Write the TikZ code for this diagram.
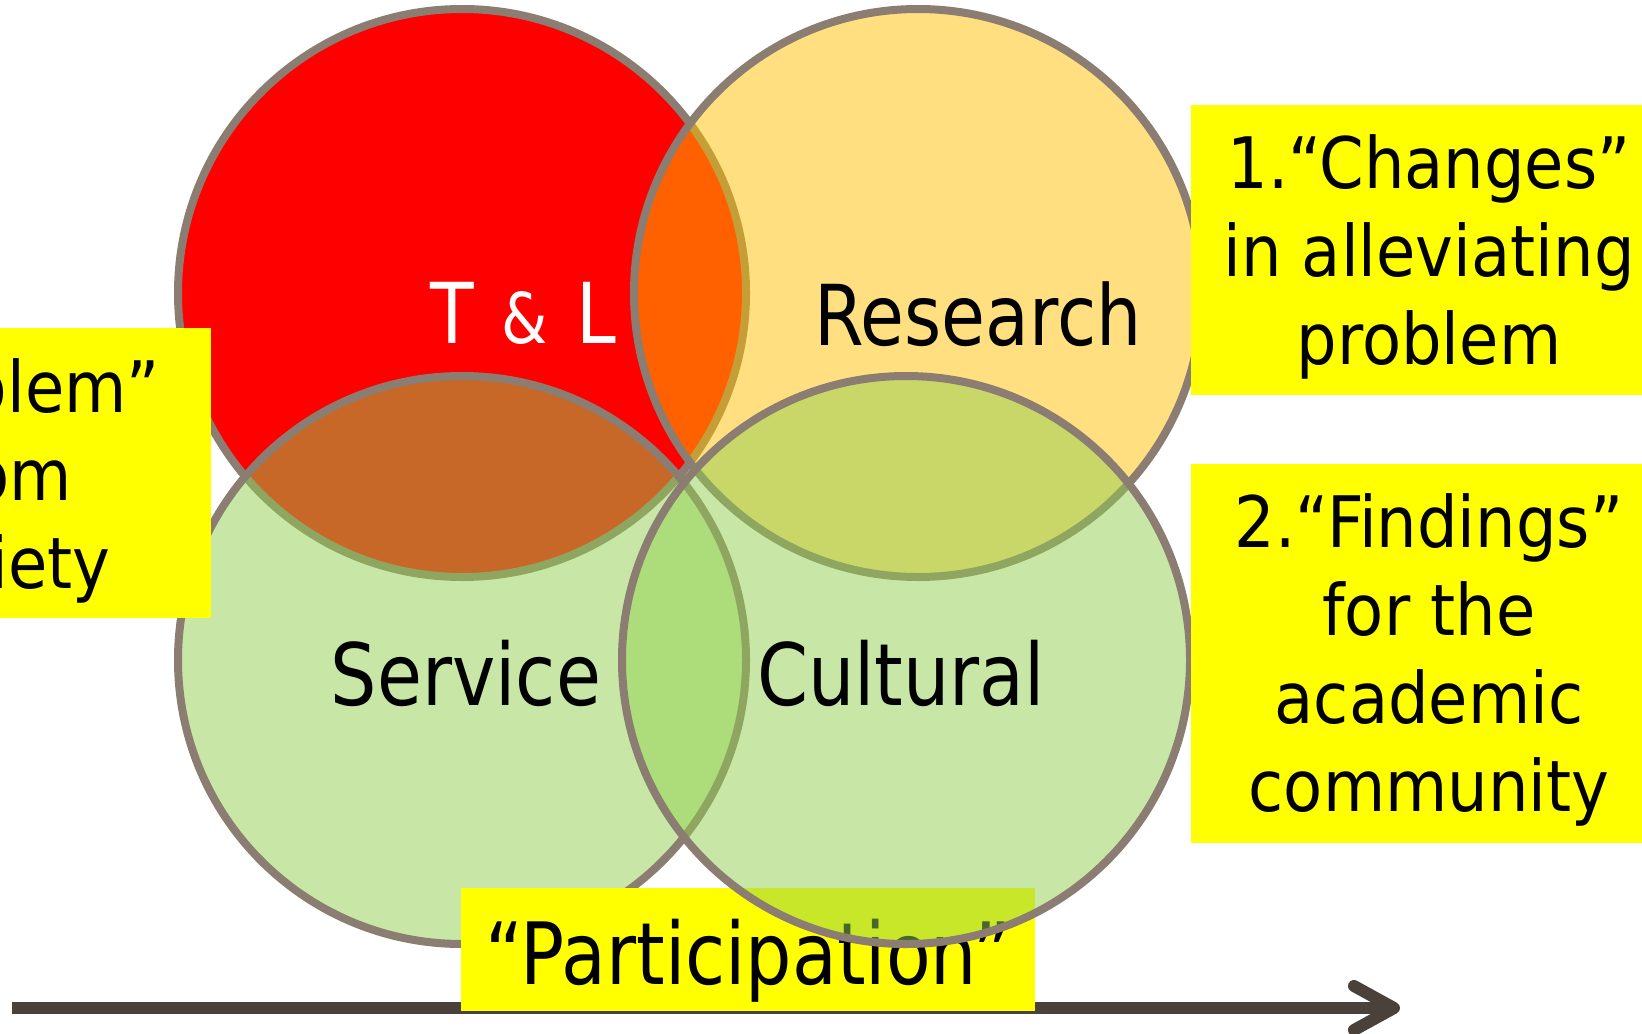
\documentclass[tikz,border=0pt]{standalone}
\usepackage{fontspec}
\setmainfont{DejaVu Sans}
\newfontfamily\boxfont{DejaVu Sans}[FakeStretch=0.9]
\newfontfamily\labelfont{DejaVu Sans}[FakeStretch=0.85]
\usetikzlibrary{arrows.meta}

\definecolor{ringgrey}{HTML}{8B7D72}
\definecolor{gold}{HTML}{FFC000}
\definecolor{leafgreen}{HTML}{92D050}
\definecolor{arrowbrown}{HTML}{4A413A}
\definecolor{hlyellow}{HTML}{FFFF00}

\begin{document}
\begin{tikzpicture}[x=0.5pt,y=-0.5pt]
\tikzstyle{venn}=[circle, draw=ringgrey, line width=4pt, minimum size=284pt, inner sep=0pt]
\tikzstyle{hlbox}=[fill=hlyellow, inner sep=0pt]
\tikzstyle{boxtext}=[anchor=north, align=center, inner sep=0pt, font=\boxfont\fontsize{35.5}{44}\selectfont]
\tikzstyle{vennlabel}=[anchor=base, inner sep=0pt, font=\labelfont\fontsize{43}{50}\selectfont]
\tikzstyle{timeline}=[line width=6pt, draw=arrowbrown, -{Straight Barb[length=20pt, width=22pt, round]}]

\useasboundingbox (0,0) rectangle (1642,1033);

\coordinate (tstart) at (12,1008);
\coordinate (tend) at (1400,1008);
\draw[timeline] (tstart) -- (tend);

\draw (462,293) node[venn, fill=red] (tl) {};
\draw (918,293) node[venn, fill=gold, fill opacity=0.5] (research) {};
\draw (462,660) node[venn, fill=leafgreen, fill opacity=0.5] (service) {};
\draw (748,949.5) node[hlbox, minimum width=287pt, minimum height=61.5pt] (partbox) {};
\draw (748,984) node[vennlabel] (parttext) {“Participation”};
\draw (906,660) node[venn, fill=leafgreen, fill opacity=0.5] (cultural) {};

\draw (523,343) node[vennlabel, text=white, font=\labelfont\fontsize{42}{50}\selectfont] (tltext) {T\hspace{14pt}{\fontsize{35}{40}\selectfont\&}\hspace{14pt}L};
\draw (978,345) node[vennlabel, font=\labelfont\fontsize{42}{50}\selectfont] (restext) {Research};
\draw (466,705) node[vennlabel] (servtext) {Service};
\draw (901,705) node[vennlabel] (culttext) {Cultural};

\draw (95.5,473) node[hlbox, minimum width=115.5pt, minimum height=145pt] (probbox) {};
\draw (-3,358) node[boxtext] (probtext) {“Problem”\\from\\society};
\draw (1430.5,250) node[hlbox, minimum width=239.5pt, minimum height=145pt] (changebox) {};
\draw (1429,134) node[boxtext] (changetext) {1.“Changes”\\in alleviating\\problem};
\draw (1430.5,653.5) node[hlbox, minimum width=239.5pt, minimum height=189.5pt] (findbox) {};
\draw (1429,493) node[boxtext] (findtext) {2.“Findings”\\for the\\academic\\community};
\end{tikzpicture}
\end{document}
